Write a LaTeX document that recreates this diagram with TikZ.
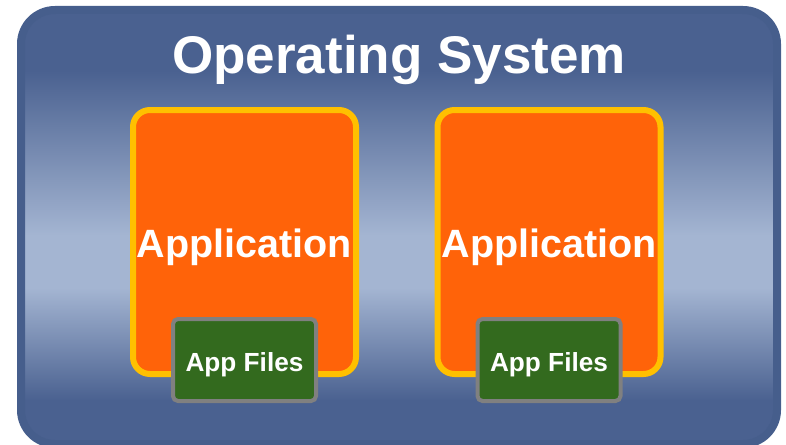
\documentclass[tikz,border=0pt]{standalone}
\usepackage{fontspec}
\setmainfont{Liberation Sans}
\definecolor{osdark}{HTML}{4A6190}
\definecolor{osborder}{HTML}{465E8C}
\definecolor{oslight}{HTML}{A4B5D2}
\definecolor{appfill}{HTML}{FF6309}
\definecolor{appline}{HTML}{FFC000}
\definecolor{filefill}{HTML}{336A1E}
\definecolor{fileline}{HTML}{808080}
\pgfdeclareverticalshading{osbg}{100bp}{color(0bp)=(osdark); color(30bp)=(osdark); color(43bp)=(oslight); color(49bp)=(oslight); color(68bp)=(osdark); color(100bp)=(osdark)}
\tikzset{
  osbox/.style={draw=osborder, line width=8pt, rounded corners=34pt, shade, shading=osbg, minimum width=756pt, minimum height=434pt, inner sep=0pt},
  appbox/.style={draw=appline, fill=appfill, line width=6pt, rounded corners=17pt, minimum width=223pt, minimum height=264pt, inner sep=0pt},
  filebox/.style={draw=fileline, fill=filefill, line width=4pt, rounded corners=5pt, minimum width=143pt, minimum height=82pt, inner sep=0pt},
  lbl/.style={text=white, font=\bfseries, anchor=base, inner sep=0pt}
}
\begin{document}
\begin{tikzpicture}[x=1pt,y=-1pt]
\useasboundingbox (0,0) rectangle (786,444);
\node[osbox] (os) at (399,227) {};
\node[lbl, font=\fontsize{53}{60}\selectfont\bfseries] (ostitle) at (399,73) {Operating System};
\node[appbox] (app1) at (244.5,242) {};
\node[appbox] (app2) at (549,242) {};
\node[lbl, font=\fontsize{39.5}{45}\selectfont\bfseries] (app1t) at (244.5,257) {Application};
\node[lbl, font=\fontsize{39.5}{45}\selectfont\bfseries] (app2t) at (549,257) {Application};
\node[filebox] (files1) at (244.5,360) {};
\node[filebox] (files2) at (549,360) {};
\node[lbl, font=\fontsize{26.2}{30}\selectfont\bfseries] (files1t) at (244.5,371) {App Files};
\node[lbl, font=\fontsize{26.2}{30}\selectfont\bfseries] (files2t) at (549,371) {App Files};
\end{tikzpicture}
\end{document}
